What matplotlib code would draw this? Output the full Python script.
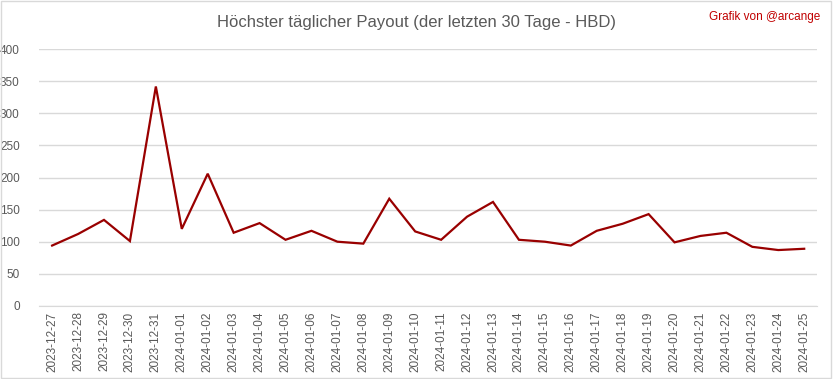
import matplotlib
matplotlib.use("Agg")
import matplotlib.pyplot as plt
from matplotlib.patches import Rectangle

plt.rcParams['font.family'] = ['Liberation Sans', 'DejaVu Sans']

dates = ['2023-12-27', '2023-12-28', '2023-12-29', '2023-12-30', '2023-12-31',
         '2024-01-01', '2024-01-02', '2024-01-03', '2024-01-04', '2024-01-05',
         '2024-01-06', '2024-01-07', '2024-01-08', '2024-01-09', '2024-01-10',
         '2024-01-11', '2024-01-12', '2024-01-13', '2024-01-14', '2024-01-15',
         '2024-01-16', '2024-01-17', '2024-01-18', '2024-01-19', '2024-01-20',
         '2024-01-21', '2024-01-22', '2024-01-23', '2024-01-24', '2024-01-25']
payout = [94, 112, 134, 101, 342, 120, 206, 114, 129, 103,
          117, 100, 97, 167, 116, 103, 139, 162, 103, 100,
          94, 117, 128, 143, 99, 109, 114, 92, 87, 89]
yticks = [0, 50, 100, 150, 200, 250, 300, 350, 400]

fig = plt.figure(figsize=(8.33, 3.79), dpi=100)
ax = fig.add_axes([0.047, 0.193, 0.934, 0.677])

x = list(range(len(dates)))
ax.plot(x, payout, color='#990000', linewidth=1.6, solid_joinstyle='miter')

ax.set_xlim(-0.5, len(dates) - 0.5)
ax.set_ylim(0, 400)
ax.set_yticks(yticks)
ax.set_xticks(x)
ax.set_xticklabels(dates, rotation=90, fontsize=8.5, color='#595959')
ax.tick_params(axis='y', labelsize=8.5, colors='#595959', length=0, pad=14)
ax.tick_params(axis='x', length=0, pad=4, colors='#595959')
ax.grid(axis='y', color='#d9d9d9', linewidth=1)
ax.set_axisbelow(True)
for s in ['top', 'right', 'left']:
    ax.spines[s].set_visible(False)
ax.spines['bottom'].set_color('#d9d9d9')

fig.text(0.5, 0.94, 'Höchster täglicher Payout (der letzten 30 Tage - HBD)',
         ha='center', va='center', fontsize=12, color='#595959')
fig.text(0.985, 0.955, 'Grafik von @arcange', ha='right', va='center',
         fontsize=8.5, color='#c00000')

fig.patches.append(Rectangle((0.001, 0.002), 0.997, 0.995, transform=fig.transFigure,
                             fill=False, edgecolor='#d9d9d9', linewidth=1))

fig.savefig('out.png', dpi=100)
